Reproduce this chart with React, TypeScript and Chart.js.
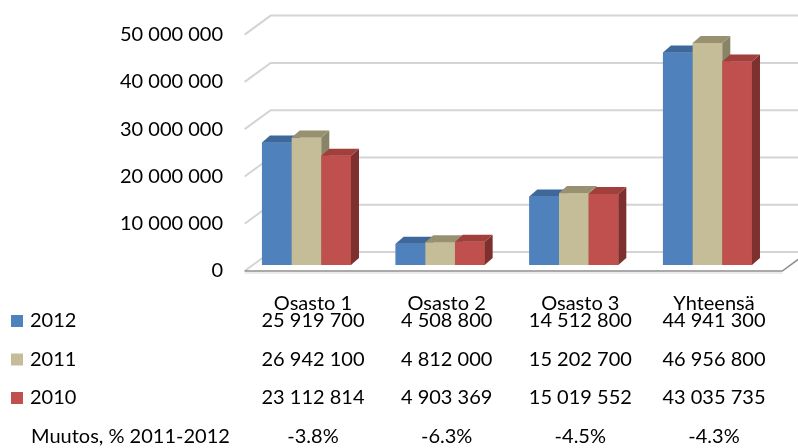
import React, { useEffect, useRef } from "react";
import { Chart, registerables } from "chart.js";

Chart.register(...registerables);

// ---------- data ----------
const categories = ["Osasto 1", "Osasto 2", "Osasto 3", "Yhteensä"];
const seriesNames = ["2012", "2011", "2010"];
const values2012 = [25919700, 4508800, 14512800, 44941300];
const values2011 = [26942100, 4812000, 15202700, 46956800];
const values2010 = [23112814, 4903369, 15019552, 43035735];
const changeLabel = "Muutos, % 2011-2012";
const changes = ["-3.8%", "-6.3%", "-4.5%", "-4.3%"];
const yMin = 0;
const yMax = 50000000;
const yStep = 10000000;

// ---------- style ----------
const frontColors = ["#4F81BD", "#C4BD97", "#C0504D"];
const topColors = ["#3D6899", "#979071", "#A03F3C"];
const sideColors = ["#345A87", "#8A8467", "#7E302E"];
const FONT = "Lato, 'Open Sans', sans-serif";
const FONT_SIZE = 20;
const TEXT_COLOR = "#000000";

const DX = 8; // bar depth x
const DY = 7; // bar depth y
const BACK_DX = 18;
const BACK_DY = -13;
const FRONT_DX = -8;
const FRONT_DY = 6;

function fmt(n: number): string {
  return String(Math.round(n)).replace(/\B(?=(\d{3})+(?!\d))/g, " ");
}

const wallPlugin = {
  id: "wall3d",
  beforeDatasetsDraw(chart: any) {
    const { ctx, chartArea, scales } = chart;
    const y = scales.y;
    const left = chartArea.left + 13;
    const right = chartArea.right + 16;
    ctx.save();
    ctx.lineCap = "butt";
    y.ticks.forEach((t: any) => {
      const py = y.getPixelForValue(t.value);
      ctx.strokeStyle = "#D4D4D4";
      ctx.lineWidth = 2;
      ctx.beginPath();
      ctx.moveTo(left + FRONT_DX, py + FRONT_DY);
      ctx.lineTo(left + BACK_DX, py + BACK_DY);
      ctx.lineTo(chart.width + 10, py + BACK_DY);
      ctx.stroke();
    });
    // floor front edge
    const p0 = y.getPixelForValue(0);
    ctx.strokeStyle = "#D8D8D8";
    ctx.lineWidth = 1;
    ctx.beginPath();
    ctx.moveTo(left + FRONT_DX, p0 + FRONT_DY + 2);
    ctx.lineTo(right + FRONT_DX, p0 + FRONT_DY + 2);
    ctx.stroke();
    ctx.strokeStyle = "#8E8E8E";
    ctx.lineWidth = 1.5;
    ctx.beginPath();
    ctx.moveTo(left + FRONT_DX, p0 + FRONT_DY);
    ctx.lineTo(right + FRONT_DX, p0 + FRONT_DY);
    ctx.lineTo(right + BACK_DX, p0 + BACK_DY);
    ctx.stroke();
    ctx.restore();
  },
};

// Redraw every bar as a 3D box, left to right, so overlaps are painted correctly.
const barPlugin = {
  id: "bar3d",
  afterDatasetsDraw(chart: any) {
    const { ctx } = chart;
    const metas = chart.data.datasets.map((_: any, i: number) => chart.getDatasetMeta(i));
    const n = chart.data.labels.length;
    ctx.save();
    for (let c = 0; c < n; c++) {
      metas.forEach((meta: any, i: number) => {
        const el = meta.data[c];
        if (!el) return;
        const p = el.getProps(["x", "y", "base", "width"], true);
        const l = p.x - p.width / 2;
        const r = p.x + p.width / 2;
        // front
        ctx.fillStyle = frontColors[i];
        ctx.fillRect(l, p.y, r - l, p.base - p.y);
        // side
        ctx.fillStyle = sideColors[i];
        ctx.beginPath();
        ctx.moveTo(r, p.y);
        ctx.lineTo(r + DX, p.y - DY);
        ctx.lineTo(r + DX, p.base - DY);
        ctx.lineTo(r, p.base);
        ctx.closePath();
        ctx.fill();
        // top
        ctx.fillStyle = topColors[i];
        ctx.beginPath();
        ctx.moveTo(l, p.y);
        ctx.lineTo(r, p.y);
        ctx.lineTo(r + DX, p.y - DY);
        ctx.lineTo(l + DX, p.y - DY);
        ctx.closePath();
        ctx.fill();
      });
    }
    ctx.restore();
  },
};

const tablePlugin = {
  id: "dataTable",
  afterDraw(chart: any) {
    const { ctx, chartArea, scales } = chart;
    const x = scales.x;
    const b = chartArea.bottom;
    const rows = [values2012, values2011, values2010];
    const rowY = [b + 56, b + 94.5, b + 133];
    ctx.save();
    ctx.font = `${FONT_SIZE}px ${FONT}`;
    ctx.textBaseline = "middle";
    rows.forEach((vals, r) => {
      ctx.fillStyle = frontColors[r];
      ctx.fillRect(11, rowY[r] - 6, 12, 12);
      ctx.fillStyle = TEXT_COLOR;
      ctx.textAlign = "left";
      ctx.fillText(seriesNames[r], 30, rowY[r]);
      ctx.textAlign = "center";
      vals.forEach((v, c) => {
        ctx.fillText(fmt(v), x.getPixelForValue(c) + 6.5, rowY[r]);
      });
    });
    const my = b + 172;
    ctx.fillStyle = TEXT_COLOR;
    ctx.textAlign = "left";
    ctx.fillText(changeLabel, 31, my);
    ctx.textAlign = "center";
    changes.forEach((s, c) => {
      ctx.fillText(s, x.getPixelForValue(c) + 6.5, my);
    });
    ctx.restore();
  },
};

export default function App() {
  const ref = useRef<HTMLCanvasElement | null>(null);
  useEffect(() => {
    if (!ref.current) return;
    const chart = new Chart(ref.current, {
      type: "bar",
      data: {
        labels: categories,
        datasets: [
          { label: seriesNames[0], data: values2012, backgroundColor: frontColors[0] },
          { label: seriesNames[1], data: values2011, backgroundColor: frontColors[1] },
          { label: seriesNames[2], data: values2010, backgroundColor: frontColors[2] },
        ],
      },
      options: {
        responsive: false,
        animation: false,
        devicePixelRatio: 1,
        datasets: { bar: { categoryPercentage: 0.666, barPercentage: 1, borderWidth: 0 } },
        layout: { padding: { top: 26, right: 23.7, left: 0, bottom: 0 } },
        plugins: { legend: { display: false }, tooltip: { enabled: false } },
        scales: {
          x: {
            grid: { display: false, drawTicks: false },
            border: { display: false },
            ticks: {
              color: TEXT_COLOR,
              font: { family: FONT, size: FONT_SIZE },
              padding: 27,
              labelOffset: 6.5,
              maxRotation: 0,
            },
            afterFit: (s: any) => {
              s.height = 183;
            },
          },
          y: {
            min: yMin,
            max: yMax,
            grid: { display: false, drawTicks: false },
            border: { display: false },
            ticks: {
              stepSize: yStep,
              color: TEXT_COLOR,
              font: { family: FONT, size: FONT_SIZE },
              padding: 16.6,
              labelOffset: 6,
              callback: (v: any) => fmt(Number(v)),
            },
            afterFit: (s: any) => {
              s.width = 239.65;
            },
          },
        },
      },
      plugins: [wallPlugin, barPlugin, tablePlugin],
    });
    return () => chart.destroy();
  }, []);
  return (
    <div style={{ position: "absolute", left: 0, top: 0, width: 798, height: 448, background: "#fff" }}>
      <canvas ref={ref} width={798} height={448} />
    </div>
  );
}
